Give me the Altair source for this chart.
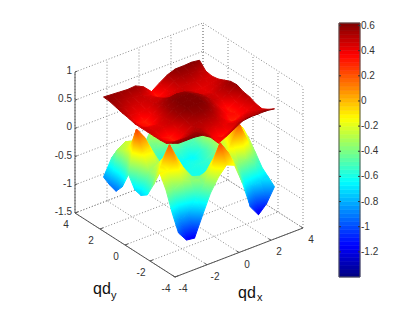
import numpy as np
import pandas as pd
import altair as alt

# Surface heights, rows from qdy=3 down to qdy=-3, columns qdx=-3..3
GRID = [-3, -2.5, -2, -1.5, -1, -.5, 0, .5, 1, 1.5, 2, 2.5, 3]
UPPER = [
 [.59,.58,.57,.56,.57,.50,.36,.46,.55,.60,.60,.61,.59],
 [.58,.55,.52,.50,.48,.42,.33,.40,.50,.55,.55,.52,.47],
 [.55,.50,.46,.45,.47,.45,.40,.43,.47,.48,.47,.45,.45],
 [.52,.44,.40,.42,.47,.50,.47,.48,.47,.43,.42,.44,.47],
 [.50,.36,.32,.40,.52,.58,.60,.58,.52,.44,.42,.47,.52],
 [.47,.36,.33,.44,.56,.62,.63,.62,.56,.48,.46,.52,.57],
 [.47,.42,.42,.48,.58,.63,.64,.63,.57,.48,.44,.50,.58],
 [.47,.44,.44,.48,.57,.62,.63,.62,.54,.42,.33,.42,.53],
 [.47,.38,.32,.42,.53,.58,.60,.57,.48,.38,.33,.40,.51],
 [.47,.38,.33,.42,.50,.53,.53,.50,.40,.30,.35,.40,.46],
 [.48,.45,.45,.50,.52,.47,.45,.42,.40,.40,.45,.45,.44],
 [.55,.55,.56,.57,.52,.40,.32,.38,.46,.50,.50,.52,.50],
 [.62,.62,.62,.60,.51,.35,.42,.50,.58,.60,.60,.60,.58],
]
LOWER = [
 [-.83,-.55,-.42,-.45,-.60,-.55,-.30,-.20,-.30,-.45,-.60,-.70,-.70],
 [-.90,-.32,-.24,-.28,-.40,-.35,-.05,.10,-.15,-.35,-.50,-.60,-.65],
 [-.94,-.26,-.18,-.25,-.40,-.45,-.30,-.20,-.35,-.45,-.40,-.45,-.55],
 [-.79,-.15,.02,-.15,-.45,-.60,-.55,-.50,-.55,-.50,-.20,-.15,-.40],
 [-.50,.25,.05,-.25,-.55,-.65,-.65,-.62,-.65,-.55,-.15,.10,-.30],
 [-.70,-.10,-.10,-.35,-.55,-.62,-.62,-.60,-.60,-.50,-.25,-.05,-.20],
 [-.73,-.35,-.30,-.40,-.55,-.60,-.60,-.58,-.55,-.45,-.20,-.05,-.08],
 [-.65,-.30,-.10,-.25,-.50,-.60,-.60,-.60,-.55,-.35,-.05,-.05,-.12],
 [-.40,-.10,.20,-.10,-.45,-.55,-.60,-.60,-.50,-.20,.05,-.10,-.25],
 [-.12,-.15,.00,-.20,-.40,-.45,-.45,-.45,-.35,-.05,.19,-.15,-.42],
 [-.35,-.40,-.30,-.35,-.38,-.30,-.10,-.05,-.20,-.35,-.35,-.45,-.60],
 [-.69,-.85,-.80,-.60,-.40,-.10,.23,.0,-.30,-.65,-.75,-.72,-.70],
 [-.97,-1.15,-1.17,-.82,-.48,-.25,-.09,-.15,-.52,-1.00,-1.19,-1.05,-.80],
]
XY_TICKS = [-4, -2, 0, 2, 4]
Z_TICKS = [-1.5, -1, -.5, 0, .5, 1]
CBAR_TICKS = [.6, .4, .2, 0, -.2, -.4, -.6, -.8, -1, -1.2]
CMIN, CMAX = -1.4, .62
W, H = 399, 295


def proj(x, y, z):
    return (175 - 8 + 16 * (x + 4) - 12.5 * (y + 4),
            277 - 8 - 6.125 * (x + 4) - 8 * (y + 4) - 56.4 * (z + 1.5))


JET_T = [0, .125, .375, .625, .875, 1]
JET_C = [(0, 0, .5), (0, 0, 1), (0, 1, 1), (1, 1, 0), (1, 0, 0), (.5, 0, 0)]


def jet(z):
    t = float(np.clip((z - CMIN) / (CMAX - CMIN), 0, 1))
    rgb = [np.interp(t, JET_T, [c[k] for c in JET_C]) for k in range(3)]
    return "#%02x%02x%02x" % tuple(int(round(v * 255)) for v in rgb)


def fill_of(pts):
    """Colour of a facet varies with its height, as in MATLAB's interpolated shading."""
    P = np.array(pts, float)
    z = P[:, 2]
    zmin, zmax = z.min(), z.max()
    if zmax - zmin < 1e-3:
        return jet(zmin)
    lo, hi = P[:, :2].min(0), P[:, :2].max(0)
    uv = (P[:, :2] - lo) / np.maximum(hi - lo, 1e-6)
    A = np.c_[uv, np.ones(len(uv))]
    g = np.linalg.lstsq(A, z, rcond=None)[0][:2]
    n2 = float(g @ g)
    if n2 < 1e-6:
        return jet(z.mean())
    d = g / n2
    c = uv.mean(0)
    p0 = c - d * (z.mean() - zmin)
    p1 = c + d * (zmax - z.mean())
    levels = [zmin] + [CMIN + t * (CMAX - CMIN) for t in JET_T[1:-1]
                       if zmin < CMIN + t * (CMAX - CMIN) < zmax] + [zmax]
    stops = [{"offset": (v - zmin) / (zmax - zmin), "color": jet(v)} for v in levels]
    return {"gradient": "linear", "x1": float(p0[0]), "y1": float(p0[1]),
            "x2": float(p1[0]), "y2": float(p1[1]), "stops": stops}


def facets(table):
    out = []
    n = len(GRID)
    ys = GRID[::-1]
    cells = []
    for j in range(n - 1):
        for i in range(n - 1):
            cx = (GRID[i] + GRID[i + 1]) / 2
            cy = (ys[j] + ys[j + 1]) / 2
            cells.append((6.125 * cx + 8 * cy, i, j))
    for _, i, j in sorted(cells, reverse=True):
        corners = [(i, j), (i + 1, j), (i + 1, j + 1), (i, j + 1)]
        pts = []
        for a, b in corners:
            sx, sy = proj(GRID[a], ys[b], table[b][a])
            pts.append((sx, sy, table[b][a]))
        ring = [[p[0], p[1]] for p in pts] + [[pts[0][0], pts[0][1]]]
        out.append({"type": "Feature", "properties": {"g": fill_of(pts)},
                    "geometry": {"type": "Polygon", "coordinates": [ring]}})
    return out


features = facets(LOWER) + facets(UPPER)

X = alt.X("x:Q", scale=alt.Scale(domain=[0, W]), axis=None)
Y = alt.Y("y:Q", scale=alt.Scale(domain=[0, H], reverse=True), axis=None)

# grid and box
grid, axes = [], []
seg = 0


def add(store, a, b):
    global seg
    seg += 1
    for k, p in enumerate((a, b)):
        sx, sy = proj(*p)
        store.append({"x": sx, "y": sy, "seg": seg, "k": k})


zlo, zhi = Z_TICKS[0], Z_TICKS[-1]
for t in XY_TICKS:
    add(grid, (t, -4, zlo), (t, 4, zlo))
    add(grid, (-4, t, zlo), (4, t, zlo))
    add(grid, (t, 4, zlo), (t, 4, zhi))
    add(grid, (4, t, zlo), (4, t, zhi))
for z in Z_TICKS:
    add(grid, (-4, 4, z), (4, 4, z))
    add(grid, (4, 4, z), (4, -4, z))

add(axes, (-4, 4, zlo), (-4, 4, zhi))
add(axes, (-4, 4, zlo), (-4, -4, zlo))
add(axes, (-4, -4, zlo), (4, -4, zlo))
for z in Z_TICKS:
    add(axes, (-4, 4, z), (-3.85, 4, z))
for t in XY_TICKS:
    add(axes, (t, -4, zlo), (t, -3.8, zlo))
    add(axes, (-4, t, zlo), (-3.8, t, zlo))

labels = []
for z in Z_TICKS:
    sx, sy = proj(-4, 4, z)
    labels.append({"x": sx - 3, "y": sy - 1, "t": f"{z:g}", "a": "right"})
for t in XY_TICKS:
    sx, sy = proj(t, -4, zlo)
    labels.append({"x": sx + 8, "y": sy + 12, "t": str(t), "a": "center"})
    sx, sy = proj(-4, t, zlo)
    labels.append({"x": sx - 9, "y": sy + 12, "t": str(t), "a": "center"})

BAR_L, BAR_R = 339 - 8, 360 - 8
BAR_TOP, BAR_BOT = 23 - 8, 277 - 8


def bar_y(v):
    return BAR_TOP + (CMAX - v) / (CMAX - CMIN) * (BAR_BOT - BAR_TOP)


levels = 64
bar = pd.DataFrame([{"x": BAR_L, "x2": BAR_R,
                     "y": bar_y(CMIN + (k + 1) * (CMAX - CMIN) / levels),
                     "y2": bar_y(CMIN + k * (CMAX - CMIN) / levels),
                     "c": jet(CMIN + (k + .5) * (CMAX - CMIN) / levels)} for k in range(levels)])
bar_ticks = pd.DataFrame([{"x": BAR_R + 1, "y": bar_y(v), "t": f"{v:g}"} for v in CBAR_TICKS])
tick_marks = pd.DataFrame(
    [{"x": BAR_L, "x2": BAR_L + 2, "y": bar_y(v)} for v in CBAR_TICKS] +
    [{"x": BAR_R - 2, "x2": BAR_R, "y": bar_y(v)} for v in CBAR_TICKS])
frame = pd.DataFrame([{"x": BAR_L, "x2": BAR_R, "y": BAR_TOP, "y2": BAR_BOT}])

FONT = "Liberation Sans"
grid_layer = alt.Chart(pd.DataFrame(grid)).mark_line(
    color="#8a8a8a", strokeWidth=1, strokeDash=[1, 2]).encode(X, Y, detail="seg:N", order="k:Q")
surface = alt.Chart(alt.Data(values=features)).mark_geoshape(strokeWidth=1).encode(
    fill=alt.Fill("properties.g:N", scale=None),
    stroke=alt.Stroke("properties.g:N", scale=None),
).project(type="identity", scale=1, translate=[0, 0])
axes_layer = alt.Chart(pd.DataFrame(axes)).mark_line(color="#555555", strokeWidth=1).encode(
    X, Y, detail="seg:N", order="k:Q")
text_df = pd.DataFrame(labels)
text_r = alt.Chart(text_df[text_df.a == "right"]).mark_text(
    font=FONT, fontSize=10, align="right", color="#333333").encode(X, Y, text="t:N")
text_c = alt.Chart(text_df[text_df.a == "center"]).mark_text(
    font=FONT, fontSize=10, align="center", color="#333333").encode(X, Y, text="t:N")
bar_layer = alt.Chart(bar).mark_rect(strokeWidth=.6).encode(
    X, alt.X2("x2:Q"), Y, alt.Y2("y2:Q"),
    fill=alt.Fill("c:N", scale=None), stroke=alt.Stroke("c:N", scale=None))
frame_layer = alt.Chart(frame).mark_rect(fillOpacity=0, stroke="#555555", strokeWidth=1).encode(
    X, alt.X2("x2:Q"), Y, alt.Y2("y2:Q"))
tm_layer = alt.Chart(tick_marks).mark_rule(color="#333333").encode(X, alt.X2("x2:Q"), Y)
bt_layer = alt.Chart(bar_ticks).mark_text(
    font=FONT, fontSize=10, align="left", color="#333333").encode(X, Y, text="t:N")

titles = pd.DataFrame([
    {"x": 93 - 8, "y": 289 - 8, "t": "qd"},
    {"x": 238 - 8, "y": 293 - 8, "t": "qd"},
])
subs = pd.DataFrame([
    {"x": 111 - 8, "y": 296 - 8, "t": "y"},
    {"x": 257 - 8, "y": 298 - 8, "t": "x"},
])
title_layer = alt.Chart(titles).mark_text(font=FONT, fontSize=16, align="left", color="#111111").encode(X, Y, text="t:N")
sub_layer = alt.Chart(subs).mark_text(font=FONT, fontSize=11, align="left", color="#111111").encode(X, Y, text="t:N")

chart = alt.layer(
    grid_layer, surface, axes_layer, text_r, text_c,
    bar_layer, frame_layer, tm_layer, bt_layer, title_layer, sub_layer,
).properties(width=W, height=H, padding=0, autosize="none").configure_view(stroke=None)

chart.save("out.html", embed_options={"renderer": "svg", "actions": False})
